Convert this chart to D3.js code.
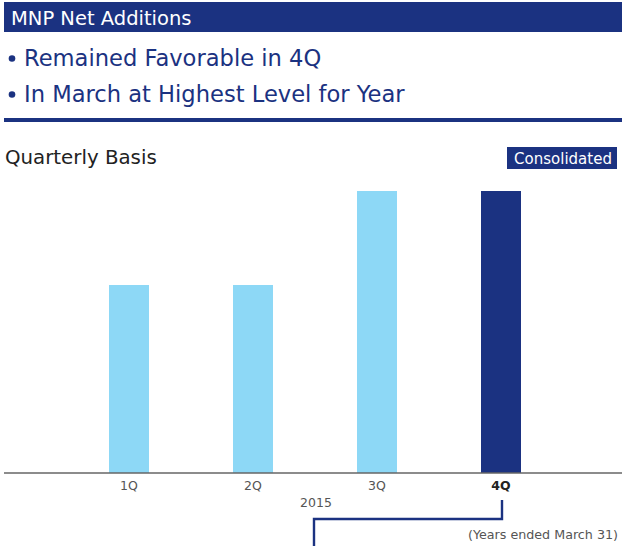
<!DOCTYPE html>
<html>
<head>
<meta charset="utf-8">
<script src="https://cdn.jsdelivr.net/npm/d3@7"></script>
<style>
  body { margin: 0; background: #fff; }
  svg { display: block; font-family: "DejaVu Sans", sans-serif; }
</style>
</head>
<body>
<script>
// chart data (no value axis in the original, heights read relative to each other)
var quarters = ["1Q", "2Q", "3Q", "4Q"];
var netAdds = [2, 2, 3, 3];
var yearLabel = "2015";
var headlines = ["Remained Favorable in 4Q", "In March at Highest Level for Year"];

var W = 622, H = 546;
var navy = "#1b3281", light = "#8dd8f6";

var svg = d3.select("body").append("svg").attr("width", W).attr("height", H);

// header bar
svg.append("rect").attr("x", 4).attr("y", 2).attr("width", W - 4).attr("height", 30).attr("fill", navy);
svg.append("text").attr("x", 11).attr("y", 25).attr("fill", "#fff")
  .style("font-size", "19.5px").text("MNP Net Additions");

// bullet lines
headlines.forEach(function(t, i){
  var by = 66 + i * 36;
  svg.append("circle").attr("cx", 12).attr("cy", by - 7.5).attr("r", 3.3).attr("fill", navy);
  svg.append("text").attr("x", 24).attr("y", by).attr("fill", navy)
    .style("font-size", "22.6px").text(t);
});
svg.append("rect").attr("x", 4).attr("y", 118).attr("width", W - 4).attr("height", 4).attr("fill", navy);

svg.append("text").attr("x", 5).attr("y", 164).attr("fill", "#222")
  .style("font-size", "19.8px").text("Quarterly Basis");

svg.append("rect").attr("x", 507).attr("y", 147).attr("width", 110).attr("height", 22).attr("fill", navy);
svg.append("text").attr("x", 563).attr("y", 163.5).attr("fill", "#fff")
  .attr("text-anchor", "middle").style("font-size", "15px").text("Consolidated");

// scales
var x = d3.scaleBand().domain(quarters).range([67, 563])
  .paddingInner(84/124).paddingOuter(42/124);
var y = d3.scaleLinear().domain([0, 3]).range([473, 191]);

svg.selectAll(".bar").data(quarters).enter().append("rect")
  .attr("class", "bar")
  .attr("x", function(d){ return x(d); })
  .attr("y", function(d, i){ return y(netAdds[i]); })
  .attr("width", x.bandwidth())
  .attr("height", function(d, i){ return y(0) - y(netAdds[i]); })
  .attr("fill", function(d, i){ return i == quarters.length - 1 ? navy : light; });

// baseline + quarter labels
var ax = svg.append("g").attr("transform", "translate(0,473)")
  .call(d3.axisBottom(x).tickSize(0).tickPadding(8));
ax.select(".domain").attr("d", "M4,0H" + W).attr("stroke", "#666").attr("stroke-width", 1.5);
ax.selectAll("text")
  .style("font-family", "'DejaVu Sans', sans-serif").style("font-size", "12.5px")
  .attr("fill", function(d){ return d == "4Q" ? "#222" : "#555"; })
  .style("font-weight", function(d){ return d == "4Q" ? "bold" : "normal"; });

svg.append("text").attr("x", 316).attr("y", 507).attr("text-anchor", "middle")
  .attr("fill", "#555").style("font-size", "12.5px").text(yearLabel);

// bracket from 4Q down
var bx = x("4Q") + x.bandwidth() / 2 + 1;
svg.append("path")
  .attr("d", "M" + bx + ",500V519H314V546")
  .attr("fill", "none").attr("stroke", navy).attr("stroke-width", 2.4);

svg.append("text").attr("x", 618).attr("y", 539).attr("text-anchor", "end")
  .attr("fill", "#555").style("font-size", "12.7px").text("(Years ended March 31)");
</script>
</body>
</html>
